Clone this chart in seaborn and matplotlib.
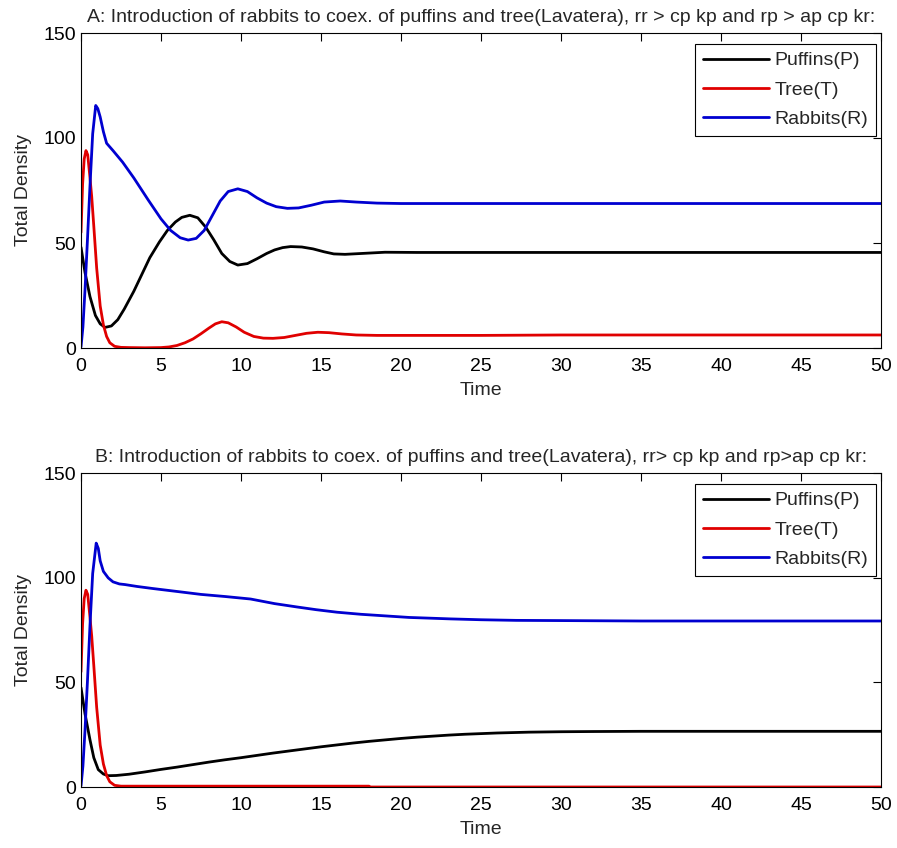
import numpy as np
import pandas as pd
import matplotlib
matplotlib.use("Agg")
import matplotlib.pyplot as plt
import seaborn as sns

# ---- Panel A: rr > cp kp and rp > ap cp kr (oscillatory approach) ----
a_puffins_t = [0, 0.25, 0.56, 0.9, 1.2, 1.5, 1.9, 2.3, 2.7, 3.3, 3.8, 4.3, 4.9, 5.4, 5.9,
               6.3, 6.8, 7.3, 7.8, 8.3, 8.8, 9.3, 9.8, 10.4, 11.0, 11.6, 12.1, 12.6, 13.1,
               13.8, 14.5, 15.2, 15.8, 16.5, 17.5, 19, 21, 25, 30, 35, 40, 45, 50]
a_puffins_v = [48, 36, 24.5, 15.5, 11.5, 9.8, 10.5, 13.5, 18.5, 27, 35, 43, 50.5, 56, 60,
               62.2, 63.2, 62, 57.5, 51.5, 45, 41.2, 39.5, 40.2, 42.5, 45, 46.7, 47.8, 48.3,
               48.1, 47.2, 45.8, 44.8, 44.6, 45.0, 45.6, 45.5, 45.5, 45.5, 45.5, 45.5, 45.5, 45.5]

a_tree_t = [0, 0.1, 0.2, 0.31, 0.42, 0.55, 0.67, 0.8, 0.98, 1.2, 1.4, 1.6, 1.8, 2.1, 2.5,
            3, 4, 5, 5.5, 6, 6.5, 7, 7.5, 8, 8.4, 8.8, 9.2, 9.7, 10.2, 10.8, 11.4, 12, 12.7,
            13.4, 14.1, 14.8, 15.5, 16.3, 17.2, 18.5, 20, 25, 30, 35, 40, 45, 50]
a_tree_v = [55, 78, 90, 94, 92, 82, 72, 58, 38, 20, 11, 5.5, 2.5, 0.8, 0.3,
            0.2, 0.1, 0.2, 0.5, 1.2, 2.5, 4.3, 6.8, 9.5, 11.5, 12.5, 12, 10, 7.5, 5.5, 4.7,
            4.6, 5.0, 6.0, 7.0, 7.5, 7.3, 6.7, 6.2, 6.0, 6.0, 6.0, 6.2, 6.2, 6.2, 6.2, 6.2]

a_rabbits_t = [0, 0.12, 0.25, 0.4, 0.56, 0.73, 0.92, 1.05, 1.2, 1.4, 1.6, 2.0, 2.6, 3.3,
               4.2, 5.0, 5.6, 6.2, 6.7, 7.2, 7.7, 8.2, 8.7, 9.2, 9.8, 10.4, 11.0, 11.6,
               12.2, 12.9, 13.6, 14.4, 15.2, 16.2, 17.2, 18.5, 20, 25, 30, 35, 40, 45, 50]
a_rabbits_v = [0.5, 10, 27.6, 51, 77, 102, 115.5, 114, 110, 103, 97.5, 94, 88.5, 81,
               70.5, 61.5, 56, 52.5, 51.4, 52.2, 56, 63, 70, 74.5, 75.8, 74.5, 71.5, 69,
               67.3, 66.5, 66.7, 68, 69.5, 70, 69.5, 69, 68.8, 68.8, 68.8, 68.8, 68.8, 68.8, 68.8]

# ---- Panel B: rr > cp kp and rp > ap cp kr (monotone approach) ----
b_puffins_t = [0, 0.25, 0.56, 0.8, 1.08, 1.4, 1.7, 2.2, 3, 4, 5, 6, 7, 8, 9, 10, 11, 12,
               13, 14, 15, 16, 17, 18, 19, 20, 21, 22, 23, 24, 25, 26, 27, 28, 30, 32, 35,
               40, 45, 50]
b_puffins_v = [47.5, 35, 22.6, 14, 8.3, 6.2, 5.4, 5.5, 6.1, 7.2, 8.4, 9.5, 10.7, 11.9,
               13.0, 14.0, 15.1, 16.2, 17.2, 18.2, 19.2, 20.1, 21.0, 21.8, 22.5, 23.2, 23.8,
               24.3, 24.8, 25.2, 25.5, 25.8, 26.0, 26.2, 26.4, 26.5, 26.6, 26.6, 26.6, 26.6]

b_tree_t = [0, 0.1, 0.2, 0.31, 0.42, 0.55, 0.67, 0.8, 0.98, 1.2, 1.4, 1.6, 1.8, 2.1, 2.5,
            5, 10, 15, 18, 18.1, 25, 30, 40, 50]
b_tree_v = [55, 78, 90, 94, 92, 82, 72, 58, 38, 20, 11, 5.5, 2.5, 0.8, 0.4,
            0.4, 0.4, 0.4, 0.4, 0, 0, 0, 0, 0]

b_rabbits_t = [0, 0.12, 0.25, 0.4, 0.56, 0.73, 0.95, 1.08, 1.2, 1.4, 1.7, 2.0, 2.4, 2.75,
               3.5, 4.5, 5.9, 7.5, 9, 10.6, 12.1, 13.5, 14.7, 16, 17.5, 18.9, 20.5, 22,
               23.1, 25, 27.2, 30, 35, 40, 45, 50]
b_rabbits_v = [0.5, 10, 27, 50, 77, 102, 116.5, 114, 108, 103, 99.9, 98, 97, 96.7,
               95.8, 94.8, 93.5, 92, 91, 89.8, 87.6, 86, 84.7, 83.5, 82.5, 81.8, 81, 80.6,
               80.3, 79.9, 79.6, 79.5, 79.3, 79.3, 79.3, 79.3]

species = ["Puffins(P)", "Tree(T)", "Rabbits(R)"]
colors = ["#000000", "#e00000", "#0000d0"]

titles = [
    "A: Introduction of rabbits to coex. of puffins and tree(Lavatera), rr > cp kp and rp > ap cp kr:",
    "B: Introduction of rabbits to coex. of puffins and tree(Lavatera), rr> cp kp and rp>ap cp kr:",
]

panels = [
    [(a_puffins_t, a_puffins_v), (a_tree_t, a_tree_v), (a_rabbits_t, a_rabbits_v)],
    [(b_puffins_t, b_puffins_v), (b_tree_t, b_tree_v), (b_rabbits_t, b_rabbits_v)],
]


def long_frame(series):
    parts = []
    for name, (t, v) in zip(species, series):
        parts.append(pd.DataFrame({"Time": t, "Density": v, "Species": name}))
    return pd.concat(parts, ignore_index=True)


sns.set_style("white")
plt.rcParams["font.family"] = ["Liberation Sans", "DejaVu Sans"]
FS = 14

fig = plt.figure(figsize=(8.97, 8.48), dpi=100)
W, H = 897, 848
ax_boxes = [(81, 33, 881, 348), (81, 473, 881, 787)]

for (x0, y0, x1, y1), series, title in zip(ax_boxes, panels, titles):
    ax = fig.add_axes([x0 / W, 1 - y1 / H, (x1 - x0) / W, (y1 - y0) / H])
    df = long_frame(series)
    sns.lineplot(data=df, x="Time", y="Density", hue="Species", hue_order=species,
                 palette=colors, estimator=None, sort=False, linewidth=2.0,
                 legend=False, ax=ax)
    ax.set_xlim(0, 50)
    ax.set_ylim(0, 150)
    ax.set_xticks(np.arange(0, 51, 5))
    ax.set_yticks([0, 50, 100, 150])
    ax.tick_params(axis="x", pad=7)
    ax.tick_params(direction="in", top=True, right=True, length=6, width=0.8,
                   labelsize=FS, colors="black")
    for sp in ax.spines.values():
        sp.set_visible(True)
        sp.set_color("black")
        sp.set_linewidth(0.8)
    ax.set_xlabel("Time", fontsize=FS, labelpad=5)
    ax.set_ylabel("Total Density", fontsize=FS, labelpad=8)
    ax.set_title(title, fontsize=FS, pad=8)
    for line, name in zip(ax.lines, species):
        line.set_label(name)
    leg = ax.legend(handles=ax.lines[:3], loc="upper right",
                    bbox_to_anchor=(1 - 5 / 800, 1 - 11 / 315), fontsize=FS,
                    frameon=True, fancybox=False, edgecolor="black",
                    framealpha=1, borderaxespad=0, handlelength=3.4,
                    handletextpad=0.3, labelspacing=0.6, borderpad=0.4)
    leg.get_frame().set_linewidth(0.8)

fig.savefig("out.png", dpi=100, facecolor="white")
